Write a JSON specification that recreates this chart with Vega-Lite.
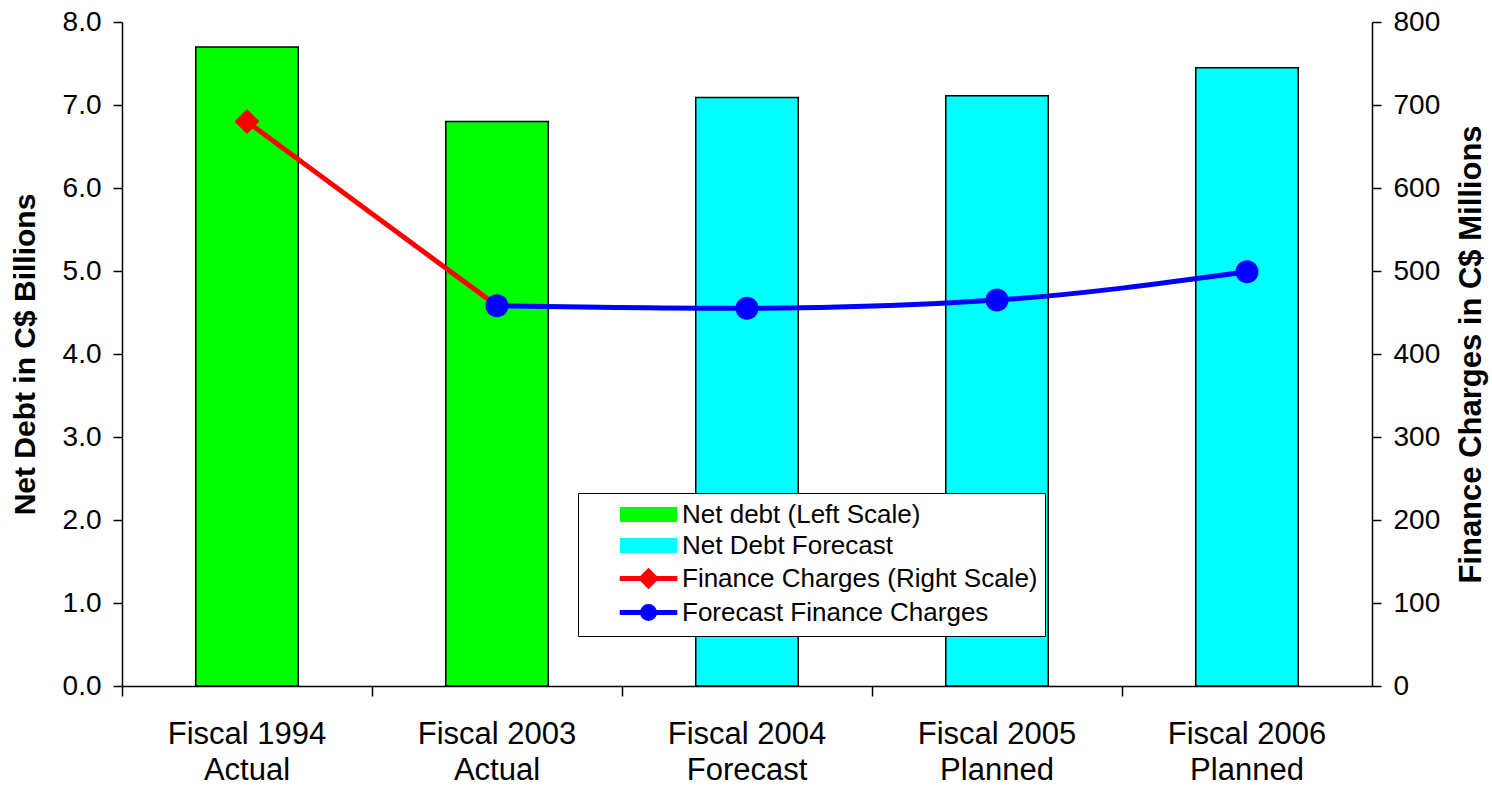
{
  "$schema": "https://vega.github.io/schema/vega-lite/v6.json",
  "width": 1250,
  "height": 664,
  "autosize": {"type": "none"},
  "padding": {"left": 122, "top": 22, "right": 120, "bottom": 103},
  "background": "white",
  "config": {
    "view": {"stroke": null},
    "font": "Liberation Sans",
    "axis": {
      "domainColor": "black", "domainWidth": 1.5,
      "tickColor": "black", "tickWidth": 1.5,
      "labelColor": "black", "titleColor": "black",
      "labelFont": "Liberation Sans", "titleFont": "Liberation Sans",
      "grid": false
    },
    "legend": {
      "orient": "none", "legendX": 456, "legendY": 471,
      "padding": 7, "strokeColor": "black", "fillColor": "white",
      "symbolSize": 576, "symbolOffset": 49, "labelOffset": 19,
      "symbolStrokeWidth": 5,
      "labelFontSize": 26, "labelFont": "Liberation Sans", "labelColor": "black",
      "labelLimit": 0, "rowPadding": 0
    }
  },
  "datasets": {
    "bars": [
      {"cat": "Fiscal 1994|Actual", "debt": 7.70, "series": "Net debt (Left Scale)"},
      {"cat": "Fiscal 2003|Actual", "debt": 6.80, "series": "Net debt (Left Scale)"},
      {"cat": "Fiscal 2004|Forecast", "debt": 7.09, "series": "Net Debt Forecast"},
      {"cat": "Fiscal 2005|Planned", "debt": 7.11, "series": "Net Debt Forecast"},
      {"cat": "Fiscal 2006|Planned", "debt": 7.45, "series": "Net Debt Forecast"}
    ],
    "charges": [
      {"cat": "Fiscal 1994|Actual", "charge": 680, "series": "Finance Charges (Right Scale)"},
      {"cat": "Fiscal 2003|Actual", "charge": 458, "series": "Finance Charges (Right Scale)"},
      {"cat": "Fiscal 2003|Actual", "charge": 458, "series": "Forecast Finance Charges"},
      {"cat": "Fiscal 2004|Forecast", "charge": 455, "series": "Forecast Finance Charges"},
      {"cat": "Fiscal 2005|Planned", "charge": 465, "series": "Forecast Finance Charges"},
      {"cat": "Fiscal 2006|Planned", "charge": 499, "series": "Forecast Finance Charges"}
    ]
  },
  "resolve": {"scale": {"y": "independent"}},
  "layer": [
    {
      "data": {"name": "bars"},
      "mark": {"type": "bar", "stroke": "black", "strokeWidth": 1.5},
      "encoding": {
        "x": {
          "field": "cat", "type": "nominal", "sort": null,
          "scale": {"paddingInner": 0.59, "paddingOuter": 0.295},
          "axis": {
            "title": null, "labelAngle": 0, "bandPosition": -0.7195,
            "labelExpr": "split(datum.label, '|')",
            "labelFontSize": 31, "labelLineHeight": 36,
            "tickSize": 10, "labelPadding": 23
          }
        },
        "y": {
          "field": "debt", "type": "quantitative",
          "scale": {"domain": [0, 8], "nice": false},
          "axis": {
            "orient": "left", "values": [0, 1, 2, 3, 4, 5, 6, 7, 8], "format": ".1f",
            "title": "Net Debt in C$ Billions", "titleFontSize": 30, "titleFontWeight": "bold",
            "titlePadding": 22,
            "labelFontSize": 28, "tickSize": 9, "labelPadding": 12
          }
        },
        "color": {
          "field": "series", "type": "nominal",
          "scale": {
            "domain": ["Net debt (Left Scale)", "Net Debt Forecast", "Finance Charges (Right Scale)", "Forecast Finance Charges"],
            "range": ["#00ff00", "#00ffff", "#ff0000", "#0000ff"]
          },
          "legend": {"title": null}
        }
      }
    },
    {
      "data": {"name": "charges"},
      "encoding": {
        "x": {"field": "cat", "type": "nominal", "sort": null},
        "y": {
          "field": "charge", "type": "quantitative",
          "scale": {"domain": [0, 800], "nice": false},
          "axis": {
            "orient": "right", "values": [0, 100, 200, 300, 400, 500, 600, 700, 800], "format": "d",
            "title": "Finance Charges in C$ Millions", "titleFontSize": 31, "titleFontWeight": "bold",
            "titleAngle": 270, "titleBaseline": "top", "titlePadding": 17,
            "labelFontSize": 28, "tickSize": 9, "labelPadding": 12
          }
        },
        "color": {"field": "series", "type": "nominal", "legend": {"title": null}}
      },
      "layer": [
        {"mark": {"type": "line", "strokeWidth": 5, "interpolate": "monotone"}},
        {
          "transform": [{"filter": "!(datum.series == 'Finance Charges (Right Scale)' && datum.cat == 'Fiscal 2003|Actual')"}],
          "mark": {"type": "point", "filled": true, "opacity": 1, "strokeWidth": 0},
          "encoding": {
            "shape": {"field": "series", "type": "nominal", "legend": {"title": null},
              "scale": {
                "domain": ["Net debt (Left Scale)", "Net Debt Forecast", "Finance Charges (Right Scale)", "Forecast Finance Charges"],
                "range": [
                  "M-2.17,-0.42H2.17V0.42H-2.17Z",
                  "M-2.17,-0.42H2.17V0.42H-2.17Z",
                  "M-2.4,0H2.4M0,-0.6L0.6,0L0,0.6L-0.6,0Z",
                  "M-2.4,0H2.4M-0.5,0A0.5,0.5,0,1,1,0.5,0A0.5,0.5,0,1,1,-0.5,0Z"
                ]
              }},
            "size": {"field": "series", "type": "nominal", "legend": null,
              "scale": {"domain": ["Finance Charges (Right Scale)", "Forecast Finance Charges"], "range": [1736, 2116]}}
          }
        }
      ]
    }
  ]
}
